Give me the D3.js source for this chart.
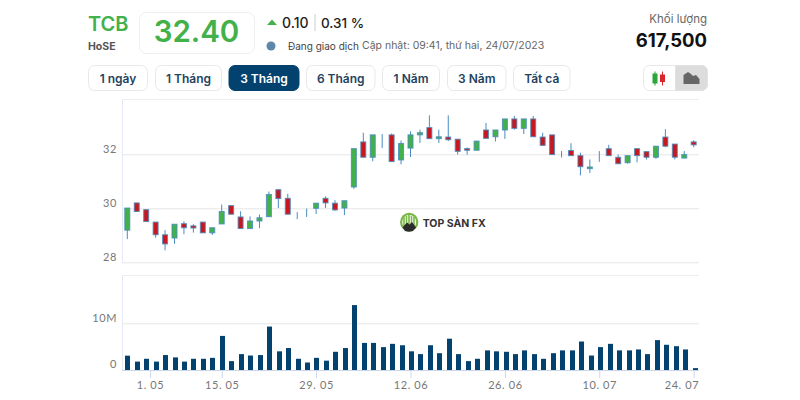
<!DOCTYPE html>
<html>
<head>
<meta charset="utf-8">
<script src="https://cdn.jsdelivr.net/npm/d3@7"></script>
<style>
  html, body { margin: 0; padding: 0; background: #fff; }
  svg { display: block; }
  text { font-family: Inter, "Noto Sans", sans-serif; }
  .tick text { font-family: Lato, Roboto, sans-serif; fill: #777; font-size: 11px; letter-spacing: 0.6px; }
</style>
</head>
<body>
<script>
var width = 800, height = 400;

const opens  = [29.19,30.20,29.95,29.49,29.02,28.90,29.43,29.35,29.49,29.09,29.42,30.10,29.68,29.25,29.53,29.69,30.69,30.37,29.79,29.90,30.00,30.37,30.19,30.01,30.79,32.46,31.89,32.57,32.72,31.79,32.23,32.72,32.99,32.58,32.64,32.56,32.21,32.15,32.90,32.65,32.90,33.31,32.96,33.31,32.64,32.72,31.99,32.14,31.95,31.47,31.99,32.21,31.89,31.69,32.21,32.10,31.89,32.64,32.38,31.86,32.46];
const closes = [30.01,29.88,29.51,29.02,28.68,29.41,29.28,29.27,29.09,29.28,29.88,29.78,29.25,29.53,29.65,30.51,30.36,29.78,29.79,29.90,30.19,30.20,29.94,30.28,32.21,31.89,32.72,32.57,31.73,32.40,32.72,32.80,32.58,32.65,32.54,32.11,32.15,32.49,32.59,32.90,33.31,32.96,33.31,32.65,32.33,31.99,31.99,31.95,31.54,31.53,31.99,31.95,31.65,31.95,31.95,31.89,32.30,32.30,31.89,31.99,32.35];
const highs  = [30.01,30.20,29.95,29.49,29.19,29.41,29.52,29.41,29.49,29.28,30.14,30.10,29.89,29.70,29.77,30.62,30.69,30.54,29.86,29.99,30.19,30.44,30.30,30.28,32.21,32.80,32.72,32.75,32.77,32.51,32.85,32.91,33.44,32.91,33.44,32.56,32.25,32.49,33.16,32.90,33.31,33.42,33.31,33.42,32.80,32.72,32.12,32.41,32.06,31.81,32.12,32.35,31.99,31.95,32.21,32.10,32.30,32.93,32.38,32.12,32.52];
const lows   = [28.86,29.88,29.51,28.91,28.44,28.69,29.04,29.10,29.09,29.01,29.42,29.78,29.25,29.25,29.26,29.69,30.01,29.78,29.60,29.68,29.79,30.01,29.91,29.75,30.72,31.89,31.74,32.23,31.73,31.63,31.90,32.42,32.58,32.42,32.49,31.99,31.99,32.15,32.59,32.48,32.57,32.91,32.75,32.65,32.33,31.99,31.88,31.95,31.22,31.31,31.72,31.95,31.65,31.65,31.70,31.81,31.83,32.26,31.81,31.86,32.26];
const volumes = [3.07,1.8,2.4,1.8,3.2,2.7,1.8,2.4,2.4,2.6,7.3,1.9,3.4,3.1,3.2,9.3,4.0,4.7,2.4,1.6,2.6,2.0,3.9,4.7,13.9,5.8,5.8,4.9,5.6,5.3,4.0,3.4,5.3,3.6,6.7,3.4,1.9,2.4,4.2,4.0,3.9,3.4,4.2,3.4,2.4,3.6,4.2,4.2,6.1,3.1,4.9,5.6,4.2,4.2,4.4,3.4,6.4,5.4,5.1,4.4,0.4];

// session index of each date tick (1.05 falls in the holiday gap)
const dateTicks  = [2.4, 10, 20, 30, 40, 50, 60];
const dateLabels = ["1. 05", "15. 05", "29. 05", "12. 06", "26. 06", "10. 07", "24. 07"];
const priceTicks = [28, 30, 32];
const volumeTicks = [0, 10];
const rangeLabels = ["1 ngày", "1 Tháng", "3 Tháng", "6 Tháng", "1 Năm", "3 Năm", "Tất cả"];
const activeRange = "3 Tháng";

const GREEN = "#42b14a", RED = "#c8181f", NAVY = "#03426f", BLUE = "#4a8cc0";

var svg = d3.select("body").append("svg").attr("width", width).attr("height", height);

// header
function label(txt, x, y, size, weight, fill, anchor) {
	return svg.append("text").attr("x", x).attr("y", y).attr("font-size", size)
		.attr("font-weight", weight).attr("fill", fill).attr("text-anchor", anchor || "start").text(txt);
}
label("TCB", 88, 31, 20, 600, GREEN);
label("HoSE", 88, 50, 10.5, 700, "#555");
svg.append("rect").attr("x", 139.5).attr("y", 12.5).attr("width", 115).attr("height", 41).attr("rx", 7)
	.attr("fill", "#fff").attr("stroke", "#eeeeee");
label("32.40", 196.5, 42, 29.5, 600, GREEN, "middle");
svg.append("path").attr("d", "M267 25L272 19.5L277 25Z").attr("fill", GREEN);
label("0.10", 282, 27.5, 14, 500, "#222");
svg.append("rect").attr("x", 314.5).attr("y", 14).attr("width", 1).attr("height", 17).attr("fill", "#ccc");
label("0.31 %", 321, 27.5, 13.5, 500, "#222");
svg.append("circle").attr("cx", 271).attr("cy", 46).attr("r", 4.5).attr("fill", "#5b87ab");
label("Đang giao dịch", 288, 50, 10, 400, "#444");
label("Cập nhật: 09:41, thứ hai, 24/07/2023", 362, 49, 10.5, 400, "#666");
label("Khối lượng", 707, 23, 11.5, 400, "#666", "end");
label("617,500", 707, 47, 18.5, 700, "#111", "end");

// range buttons
var buttonEdges = [[88.5,147.5],[155.5,221.5],[229,299],[306.5,375],[382.5,439.5],[447.5,506],[513.5,570]];
var buttons = svg.selectAll("g.range").data(rangeLabels).enter().append("g").attr("class", "range");
buttons.append("rect")
	.attr("x", (d, i) => buttonEdges[i][0]).attr("y", 65.5)
	.attr("width", (d, i) => buttonEdges[i][1] - buttonEdges[i][0]).attr("height", 25).attr("rx", 6)
	.attr("fill", d => d == activeRange ? NAVY : "#fff")
	.attr("stroke", d => d == activeRange ? NAVY : "#e8e8e8");
buttons.append("text")
	.attr("x", (d, i) => (buttonEdges[i][0] + buttonEdges[i][1]) / 2).attr("y", 83)
	.attr("text-anchor", "middle").attr("font-size", 12).attr("font-weight", 600)
	.attr("fill", d => d == activeRange ? "#fff" : "#24435f").text(d => d);

// chart type toggle
svg.append("rect").attr("x", 643.5).attr("y", 65.5).attr("width", 64).attr("height", 25).attr("rx", 6)
	.attr("fill", "#fff").attr("stroke", "#e8e8e8");
svg.append("path").attr("d", "M675.5 65.5H701.5a6 6 0 0 1 6 6V84.5a6 6 0 0 1 -6 6H675.5Z").attr("fill", "#dcdcdc").attr("stroke", "#e2e2e2");
svg.append("rect").attr("x", 652.5).attr("y", 73.5).attr("width", 5).attr("height", 10).attr("fill", "#2fa53a");
svg.append("rect").attr("x", 654.5).attr("y", 71.5).attr("width", 1).attr("height", 14).attr("fill", "#2fa53a");
svg.append("rect").attr("x", 660).attr("y", 74.5).attr("width", 5).attr("height", 7.5).attr("fill", "#d8262c");
svg.append("rect").attr("x", 662).attr("y", 71.5).attr("width", 1).attr("height", 14).attr("fill", "#d8262c");
svg.append("path").attr("d", "M683.5 84V75L688 72L691 74L693 76L696 75L699.5 79V84Z").attr("fill", "#666");

// scales
var xscale = d3.scaleLinear().domain([0, 60]).range([127.3, 693.7]);
var barscale = d3.scaleLinear().domain([0, 60]).range([127.3, 694.7]);
var yscale = d3.scaleLinear().domain([28, 32]).range([262.3, 154.3]);
var vscale = d3.scaleLinear().domain([0, 10]).range([370, 323.3]);
var bodyW = 5;

function styleAxis(g) {
	g.select(".domain").remove();
	g.selectAll(".tick line").attr("stroke", "#e6e6e6");
}

// price panel
svg.append("line").attr("x1", 122).attr("x2", 699).attr("y1", 99.5).attr("y2", 99.5).attr("stroke", "#eeeeee");
svg.append("line").attr("x1", 122.5).attr("x2", 122.5).attr("y1", 99).attr("y2", 263).attr("stroke", "#e4e9f5");
svg.append("g").attr("transform", "translate(122,0)")
	.call(d3.axisLeft(yscale).tickValues(priceTicks).tickFormat(d3.format("d")).tickSize(-577).tickPadding(6))
	.call(styleAxis)
	.selectAll(".tick text").attr("dy", "-0.2em").attr("x", -5);

var candles = svg.selectAll("g.candle").data(opens).enter().append("g").attr("class", "candle");
candles.append("line")
	.attr("x1", (d, i) => xscale(i)).attr("x2", (d, i) => xscale(i))
	.attr("y1", (d, i) => yscale(highs[i])).attr("y2", (d, i) => yscale(lows[i]))
	.attr("stroke", BLUE).attr("stroke-width", 1);
candles.append("rect")
	.attr("x", (d, i) => xscale(i) - bodyW / 2)
	.attr("y", (d, i) => yscale(Math.max(opens[i], closes[i])))
	.attr("width", bodyW)
	.attr("height", (d, i) => Math.abs(yscale(opens[i]) - yscale(closes[i])))
	.attr("fill", (d, i) => closes[i] >= opens[i] ? GREEN : RED)
	.attr("stroke", BLUE).attr("stroke-width", 1).attr("stroke-opacity", 0.85);

// watermark
var logo = svg.append("g").attr("transform", "translate(400,212.5)");
logo.append("circle").attr("cx", 9.2).attr("cy", 9.5).attr("r", 9.2).attr("fill", "#7ab648");
logo.append("circle").attr("cx", 9.2).attr("cy", 9.5).attr("r", 7).attr("fill", "#fff");
d3.range(5).forEach(function (k) {
	logo.append("rect").attr("x", 3.2 + k * 2.5).attr("y", 2.5 + Math.abs(k - 2)).attr("width", 1.6).attr("height", 9).attr("fill", "#7ab648");
});
logo.append("path").attr("d", "M2.5 15L7 10L9.5 12L12 9.5L16 15L13 18.5Q9 20 5 18.5Z").attr("fill", "#2b2b2b");
label("TOP SÀN FX", 422.7, 227.3, 10.5, 700, "#333");

// volume panel
svg.append("line").attr("x1", 122).attr("x2", 699).attr("y1", 275.5).attr("y2", 275.5).attr("stroke", "#eeeeee");
svg.append("line").attr("x1", 122.5).attr("x2", 122.5).attr("y1", 275).attr("y2", 370).attr("stroke", "#e4e9f5");
svg.append("g").attr("transform", "translate(122,0)")
	.call(d3.axisLeft(vscale).tickValues(volumeTicks).tickFormat(d => d ? d + "M" : "0").tickSize(-577).tickPadding(6))
	.call(styleAxis)
	.selectAll(".tick text").attr("dy", "-0.2em").attr("x", -5);

svg.selectAll("rect.vol").data(volumes).enter().append("rect").attr("class", "vol")
	.attr("x", (d, i) => Math.round(barscale(i)) - 2)
	.attr("y", d => vscale(d))
	.attr("width", 5)
	.attr("height", d => vscale(0) - vscale(d))
	.attr("fill", NAVY);

// date axis
svg.append("g").attr("transform", "translate(0,370)")
	.call(d3.axisBottom(xscale).tickValues(dateTicks).tickFormat((d, i) => dateLabels[i]).tickSize(8).tickPadding(3))
	.call(function (g) {
		g.select(".domain").attr("stroke", "#ccd6eb").attr("d", "M122,0.5H699");
		g.selectAll(".tick line").attr("stroke", "#ccd6eb");
		// last label is kept inside the plot
		g.selectAll(".tick text").filter((d, i) => i == dateTicks.length - 1)
			.attr("text-anchor", "end").attr("x", 5);
	});
</script>
</body>
</html>
